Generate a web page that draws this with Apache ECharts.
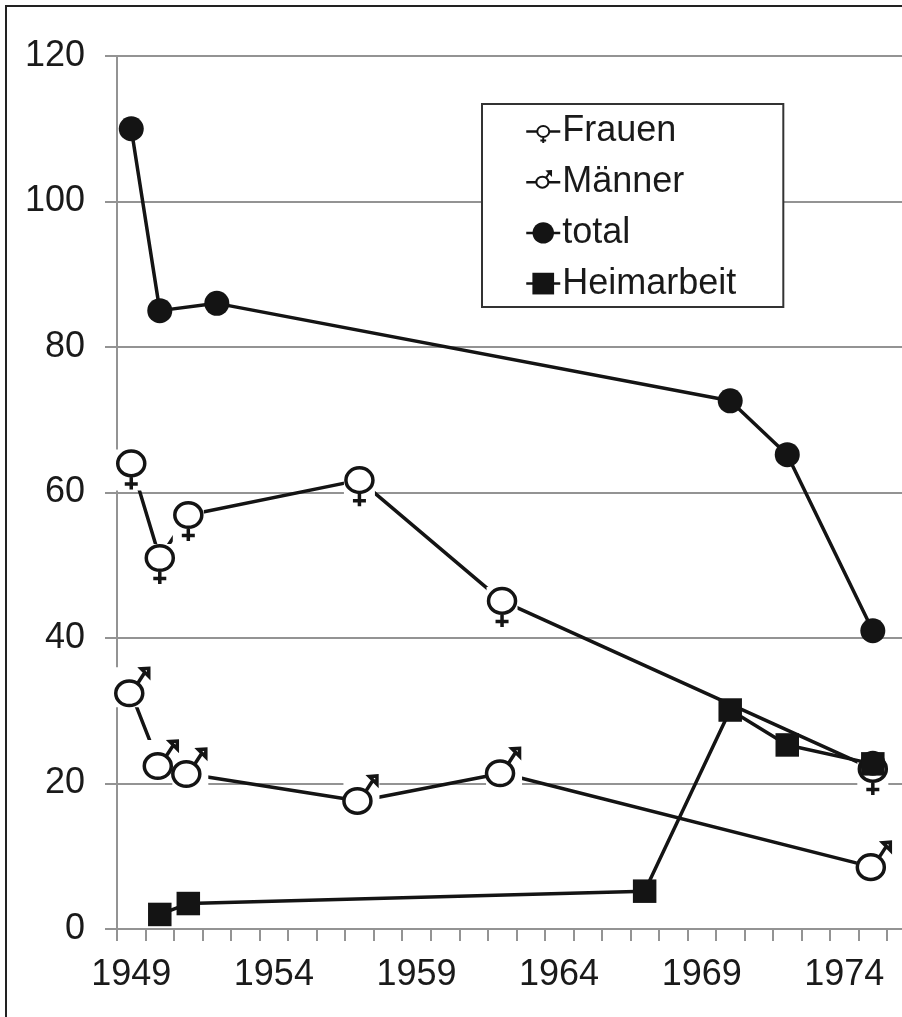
<!DOCTYPE html>
<html><head><meta charset="utf-8">
<style>html,body{margin:0;padding:0;background:#fff;overflow:hidden;width:902px;height:1017px}#c{width:960px;height:1017px}</style>
<script src="https://cdn.jsdelivr.net/npm/echarts@6/dist/echarts.min.js"></script>
</head><body><div id="c"></div>
<script>
const years = [];
for (let y = 1949; y <= 1976; y++) years.push(String(y));

const frauenYears = ['1949','1950','1951','1957','1962','1975'];
const frauenValues = [64, 51, 56.9, 61.7, 45.1, 22];
const maennerYears = ['1949','1950','1951','1957','1962','1975'];
const maennerValues = [32.4, 22.4, 21.3, 17.6, 21.4, 8.5];
const totalYears = ['1949','1950','1952','1970','1972','1975'];
const totalValues = [110, 85, 86, 72.6, 65.2, 41];
const heimYears = ['1950','1951','1967','1970','1972','1975'];
const heimValues = [2, 3.5, 5.2, 30.1, 25.3, 22.7];
const extraYears = ['1975'];
const extraValues = [22.8];

const pairs = (a, b) => a.map((x, i) => [x, b[i]]);
const INK = '#141414', GRID = '#939393', FONT = '"Liberation Sans", Arial, sans-serif';

// zero-length corner segments keep each glyph's box square and centred on the ring,
// which also sets how large the glyph appears in the legend
const box = h => 'M' + (-h) + ',' + (-h) + ' L' + (-h) + ',' + (-h) + ' M' + h + ',' + h + ' L' + h + ',' + h + ' ';
const femalePath = 'path://' + box(27) + 'M-13.5,0 A13.5,12.3 0 1 0 13.5,0 A13.5,12.3 0 1 0 -13.5,0 Z M0,12.3 L0,26 M-6.5,20.5 L6.5,20.5';
const malePath = 'path://' + box(27) + 'M-15.5,0 A13.5,12.3 0 1 0 11.5,0 A13.5,12.3 0 1 0 -15.5,0 Z M6.5,-10 L13,-20 M10,-24.5 L17.5,-25 L17.5,-17 Z';
const dotPath = 'path://' + box(14) + 'M-12.5,0 A12.5,12.5 0 1 0 12.5,0 A12.5,12.5 0 1 0 -12.5,0 Z';
const squarePath = 'path://' + box(13) + 'M-11.75,-11.75 L11.75,-11.75 L11.75,11.75 L-11.75,11.75 Z';
const LW = 3.5;

function lineOnly(name, data, z) {
  return { name, type: 'line', data, z, connectNulls: true, showSymbol: false, silent: true,
    lineStyle: { color: INK, width: LW }, animation: false };
}
function mask(name, data, z, size, offset) {
  return { name, type: 'line', data, z, silent: true, animation: false, showAllSymbol: true,
    symbol: 'rect', symbolSize: size, symbolOffset: offset,
    lineStyle: { width: 0, opacity: 0 }, itemStyle: { color: '#fff', borderWidth: 0 } };
}
function glyph(name, data, z, symbol) {
  return { name, type: 'line', data, z, silent: true, animation: false, showAllSymbol: true,
    symbol, symbolSize: 54,
    lineStyle: { width: 0, color: INK },
    itemStyle: { color: '#fff', borderColor: INK, borderWidth: LW } };
}
function solid(name, data, z, symbol, size) {
  return { name, type: 'line', data, z, silent: true, animation: false, showAllSymbol: true,
    symbol, symbolSize: size, lineStyle: { color: INK, width: LW },
    itemStyle: { color: INK, borderWidth: 0 } };
}

const fData = pairs(frauenYears, frauenValues);
const mData = pairs(maennerYears, maennerValues);

const chart = echarts.init(document.getElementById('c'), null, { renderer: 'canvas', width: 960, height: 1017 });
chart.setOption({
  animation: false,
  backgroundColor: '#fff',
  textStyle: { fontFamily: FONT },
  grid: { left: 117, top: 56, width: 798.6, height: 873 },
  legend: {
    data: ['Frauen', 'Männer', 'total', 'Heimarbeit'],
    orient: 'vertical', left: 482, top: 104,
    padding: [9.5, 47, 5.5, 43],
    itemWidth: 34, itemHeight: 30, itemGap: 14.7,
    backgroundColor: '#fff', borderColor: '#333', borderWidth: 2,
    lineStyle: { color: INK, width: 2.5, opacity: 1 },
    itemStyle: { borderWidth: 2 },
    textStyle: { fontFamily: FONT, fontSize: 36, color: '#1a1a1a', padding: [0, 0, 0, -3] },
    selectedMode: false
  },
  xAxis: {
    type: 'category', data: years, boundaryGap: true,
    axisLine: { lineStyle: { color: GRID, width: 2 } },
    axisTick: { show: true, interval: 0, length: 12, lineStyle: { color: GRID, width: 2 } },
    axisLabel: { interval: 4, fontSize: 36, color: '#1a1a1a', margin: 28, fontFamily: FONT, hideOverlap: false },
    splitLine: { show: false }
  },
  yAxis: {
    type: 'value', min: 0, max: 120, interval: 20,
    axisLine: { show: true, lineStyle: { color: GRID, width: 2 } },
    axisTick: { show: true, length: 12, lineStyle: { color: GRID, width: 2 } },
    axisLabel: { fontSize: 36, color: '#1a1a1a', margin: 32, fontFamily: FONT, padding: [3, 0, 0, 0] },
    splitLine: { show: true, lineStyle: { color: GRID, width: 2 } }
  },
  graphic: [{ type: 'rect', z: 100, silent: true,
    shape: { x: 6, y: 6, width: 1200, height: 1300 },
    style: { fill: 'none', stroke: '#222', lineWidth: 2 } }],
  series: [
    lineOnly('frauenLinie', fData, 2),
    mask('frauenMaske', fData, 3, [31, 41], [0, 6.5]),
    glyph('Frauen', fData, 4, femalePath),
    lineOnly('maennerLinie', mData, 5),
    mask('maennerMaske', mData, 6, [36, 40], [2, -6]),
    glyph('Männer', mData, 7, malePath),
    solid('total', pairs(totalYears, totalValues), 8, dotPath, 28),
    solid('Punkt', pairs(extraYears, extraValues), 9, dotPath, 28),
    solid('Heimarbeit', pairs(heimYears, heimValues), 10, squarePath, 26)
  ]
});
</script></body></html>
